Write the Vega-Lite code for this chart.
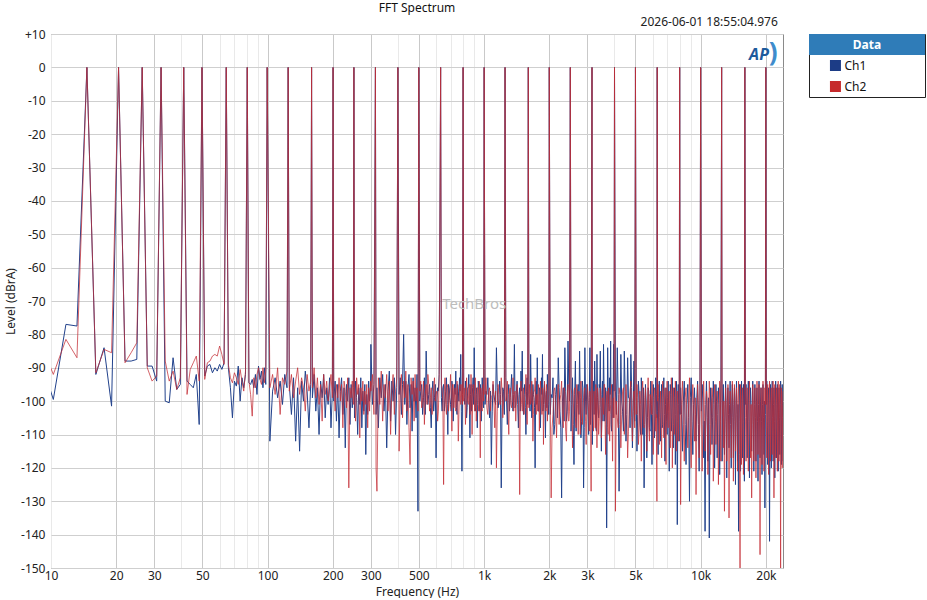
{
  "$schema": "https://vega.github.io/schema/vega-lite/v6.json",
  "padding": {"left": 4, "top": 1, "right": 5, "bottom": 0},
  "background": "white",
  "bounds": "flush",
  "spacing": 26,
  "hconcat": [
    {
      "width": 732,
      "height": 534,
      "view": {"stroke": "#8a8a8a", "strokeWidth": 1},
      "title": {"text": "FFT Spectrum", "fontSize": 12, "fontWeight": "normal", "color": "#111", "anchor": "middle", "offset": 1},
      "layer": [
        {
          "data": {"name": "spectrum"},
          "mark": {"type": "line", "color": "#22428c", "strokeWidth": 1, "clip": true, "strokeJoin": "round"},
          "encoding": {
            "x": {
              "field": "f", "type": "quantitative", "title": "Frequency (Hz)",
              "scale": {"type": "log", "domain": [10, 24000], "nice": false},
              "axis": {
                "values": [10,20,30,40,50,60,70,80,90,100,200,300,400,500,600,700,800,900,1000,2000,3000,4000,5000,6000,7000,8000,9000,10000,20000],
                "labelExpr": "indexof([10,20,30,50,100,200,300,500], datum.value) >= 0 ? '' + datum.value : (indexof([1000,2000,3000,5000,10000,20000], datum.value) >= 0 ? (datum.value / 1000) + 'k' : '')",
                "gridColor": {"condition": {"test": "indexof([20,30,50,100,200,300,500,1000,2000,3000,5000,10000,20000], datum.value) >= 0", "value": "#c9c9c9"}, "value": "#e9e9e9"},
                "labelOverlap": false, "labelFlush": false, "labelPadding": 2, "titlePadding": 5
              }
            },
            "y": {
              "field": "Ch1", "type": "quantitative", "title": "Level (dBrA)",
              "scale": {"domain": [-150, 10], "nice": false, "zero": false},
              "axis": {
                "tickCount": 16,
                "labelExpr": "datum.value > 0 ? '+' + datum.value : '' + datum.value",
                "gridColor": "#cfcfcf", "labelOverlap": false, "labelSeparation": 0, "labelFlush": false, "labelPadding": 6, "titlePadding": 3
              }
            }
          }
        },
        {
          "data": {"name": "spectrum"},
          "mark": {"type": "line", "color": "#c42c34", "strokeWidth": 1, "opacity": 0.74, "clip": true, "strokeJoin": "round"},
          "encoding": {
            "x": {"field": "f", "type": "quantitative"},
            "y": {"field": "Ch2", "type": "quantitative"}
          }
        },
        {
          "data": {"values": [{"label": "2026-06-01 18:55:04.976"}]},
          "mark": {"type": "text", "align": "right", "baseline": "middle", "fontSize": 12, "color": "#222", "clip": false},
          "encoding": {
            "x": {"datum": 22700, "type": "quantitative"},
            "y": {"datum": 13.6, "type": "quantitative"},
            "text": {"field": "label"}
          }
        },
        {
          "data": {"values": [{"label": "AP"}]},
          "mark": {"type": "text", "align": "center", "baseline": "middle", "fontSize": 16, "fontWeight": "bold", "fontStyle": "italic", "color": "#1d5a9c"},
          "encoding": {
            "x": {"datum": 18600, "type": "quantitative"},
            "y": {"datum": 3.8, "type": "quantitative"},
            "text": {"field": "label"}
          }
        },
        {
          "data": {"values": [{"label": ")"}]},
          "mark": {"type": "text", "align": "center", "baseline": "middle", "fontSize": 26, "fontWeight": "bold", "color": "#3f8ccc"},
          "encoding": {
            "x": {"datum": 21600, "type": "quantitative"},
            "y": {"datum": 4.2, "type": "quantitative"},
            "text": {"field": "label"}
          }
        },
        {
          "data": {"values": [{"label": "TechBros"}]},
          "mark": {"type": "text", "align": "center", "baseline": "middle", "fontSize": 15, "color": "#bdbdbd"},
          "encoding": {
            "x": {"datum": 900, "type": "quantitative"},
            "y": {"datum": -70.8, "type": "quantitative"},
            "text": {"field": "label"}
          }
        }
      ]
    },
    {
      "width": 116,
      "height": 63,
      "view": {"stroke": "#222", "strokeWidth": 1},
      "data": {"values": [{"item": "Data"}, {"item": "Ch1"}, {"item": "Ch2"}]},
      "encoding": {
        "y": {"field": "item", "type": "nominal", "axis": null, "scale": {"domain": ["Data", "Ch1", "Ch2"], "paddingInner": 0, "paddingOuter": 0}}
      },
      "layer": [
        {
          "transform": [{"filter": "datum.item == 'Data'"}],
          "mark": {"type": "rect", "color": "#2f7cb8"},
          "encoding": {
            "x": {"datum": 0, "type": "quantitative", "scale": {"domain": [0, 1]}, "axis": null},
            "x2": {"datum": 1}
          }
        },
        {
          "transform": [{"filter": "datum.item == 'Data'"}],
          "mark": {"type": "text", "color": "white", "fontWeight": "bold", "fontSize": 12},
          "encoding": {
            "x": {"datum": 0.5, "type": "quantitative", "scale": {"domain": [0, 1]}, "axis": null},
            "text": {"field": "item"}
          }
        },
        {
          "transform": [{"filter": "datum.item != 'Data'"}],
          "mark": {"type": "square", "size": 121, "opacity": 1, "filled": true},
          "encoding": {
            "x": {"datum": 0.228, "type": "quantitative", "scale": {"domain": [0, 1]}, "axis": null},
            "color": {"field": "item", "type": "nominal", "scale": {"domain": ["Ch1", "Ch2"], "range": ["#1c3c86", "#c62b2c"]}, "legend": null}
          }
        },
        {
          "transform": [{"filter": "datum.item != 'Data'"}],
          "mark": {"type": "text", "align": "left", "fontSize": 12, "color": "#111"},
          "encoding": {
            "x": {"datum": 0.305, "type": "quantitative", "scale": {"domain": [0, 1]}, "axis": null},
            "text": {"field": "item"}
          }
        }
      ]
    }
  ],
  "datasets": {
    "spectrum": [
      {"f":8.79,"Ch1":-86,"Ch2":-81},{"f":10.25,"Ch1":-99.5,"Ch2":-92},{"f":11.72,"Ch1":-77,"Ch2":-81.5},{"f":13.18,"Ch1":-77.5,"Ch2":-87},{"f":14.65,"Ch1":0,"Ch2":0},
      {"f":16.11,"Ch1":-92,"Ch2":-91.5},{"f":17.58,"Ch1":-84,"Ch2":-84.5},{"f":19.04,"Ch1":-101.5,"Ch2":-85.5},{"f":20.51,"Ch1":0,"Ch2":0},{"f":21.97,"Ch1":-88,"Ch2":-88.5},
      {"f":23.44,"Ch1":-88,"Ch2":-85.5},{"f":24.9,"Ch1":-87.5,"Ch2":-82.5},{"f":26.37,"Ch1":0,"Ch2":0},{"f":27.83,"Ch1":-89.5,"Ch2":-90},{"f":29.3,"Ch1":-89.5,"Ch2":-94},
      {"f":30.76,"Ch1":-94,"Ch2":-92.5},{"f":32.23,"Ch1":0,"Ch2":0},{"f":33.69,"Ch1":-100,"Ch2":-88},{"f":35.16,"Ch1":-100.5,"Ch2":-94},{"f":36.62,"Ch1":-87,"Ch2":-91},
      {"f":38.09,"Ch1":-96.5,"Ch2":-96.5},{"f":39.55,"Ch1":-95,"Ch2":-93},{"f":41.02,"Ch1":0,"Ch2":0},{"f":42.48,"Ch1":-94,"Ch2":-98},{"f":43.95,"Ch1":-95,"Ch2":-90.5},
      {"f":45.41,"Ch1":-96,"Ch2":-88.5},{"f":46.88,"Ch1":-92,"Ch2":-86.5},{"f":48.34,"Ch1":-107,"Ch2":-94},{"f":49.8,"Ch1":0,"Ch2":0},{"f":51.27,"Ch1":-92.5,"Ch2":-93.5},
      {"f":52.73,"Ch1":-89.5,"Ch2":-88.5},{"f":54.2,"Ch1":-89,"Ch2":-88},{"f":55.66,"Ch1":-91.5,"Ch2":-86.5},{"f":57.13,"Ch1":-90,"Ch2":-86},{"f":58.59,"Ch1":-91,"Ch2":-86.5},
      {"f":60.06,"Ch1":-89,"Ch2":-83.5},{"f":61.52,"Ch1":-90.5,"Ch2":-86},{"f":62.99,"Ch1":-88.5,"Ch2":-89},{"f":64.45,"Ch1":0,"Ch2":0},{"f":65.92,"Ch1":-90,"Ch2":-89},
      {"f":67.38,"Ch1":-96,"Ch2":-93},{"f":68.85,"Ch1":-105,"Ch2":-94.5},{"f":70.31,"Ch1":-94,"Ch2":-91.5},{"f":71.78,"Ch1":-95.5,"Ch2":-93},{"f":73.24,"Ch1":-89.5,"Ch2":-95},
      {"f":74.71,"Ch1":-100,"Ch2":-90.5},{"f":76.17,"Ch1":-93,"Ch2":-94},{"f":77.64,"Ch1":-96,"Ch2":-97},{"f":79.1,"Ch1":-92,"Ch2":-91},{"f":80.57,"Ch1":0,"Ch2":0},
      {"f":82.03,"Ch1":-94.5,"Ch2":-94},{"f":83.5,"Ch1":-95,"Ch2":-98},{"f":84.96,"Ch1":-93.5,"Ch2":-104.5},{"f":86.43,"Ch1":-96,"Ch2":-93},{"f":87.89,"Ch1":-92,"Ch2":-96},
      {"f":89.36,"Ch1":-98,"Ch2":-92},{"f":90.82,"Ch1":-89.5,"Ch2":-90},{"f":92.29,"Ch1":-93.5,"Ch2":-93.5},{"f":93.75,"Ch1":-91,"Ch2":-95},{"f":95.21,"Ch1":-96,"Ch2":-90},
      {"f":96.68,"Ch1":-90,"Ch2":-94.5},{"f":98.14,"Ch1":-95,"Ch2":-91},{"f":99.61,"Ch1":0,"Ch2":0},
      {"f":102.5,"Ch1":-112,"Ch2":-96},{"f":105.5,"Ch1":-97,"Ch2":-92},{"f":108.4,"Ch1":-93,"Ch2":-98},{"f":111.3,"Ch1":-99,"Ch2":-90},{"f":114.3,"Ch1":-94,"Ch2":-104},
      {"f":117.2,"Ch1":-101,"Ch2":-93},{"f":120.1,"Ch1":-92,"Ch2":-95},{"f":123.0,"Ch1":-96,"Ch2":-91},{"f":124.5,"Ch1":0,"Ch2":0},{"f":126.0,"Ch1":-95,"Ch2":-97},
      {"f":128.9,"Ch1":-104,"Ch2":-92},{"f":131.8,"Ch1":-93,"Ch2":-99},{"f":134.8,"Ch1":-112,"Ch2":-94},{"f":137.7,"Ch1":-96,"Ch2":-90},{"f":140.6,"Ch1":-115,"Ch2":-98},
      {"f":143.6,"Ch1":-94,"Ch2":-93},{"f":146.5,"Ch1":-100,"Ch2":-96},{"f":149.4,"Ch1":-91,"Ch2":-103},{"f":152.3,"Ch1":-97,"Ch2":-92},{"f":155.3,"Ch1":-108,"Ch2":-97},
      {"f":158.2,"Ch1":-95,"Ch2":-94},{"f":159.7,"Ch1":0,"Ch2":0},{"f":161.1,"Ch1":-99,"Ch2":-96},{"f":164.1,"Ch1":-92,"Ch2":-90},{"f":167.0,"Ch1":-103,"Ch2":-99},
      {"f":169.9,"Ch1":-96,"Ch2":-93},{"f":172.9,"Ch1":-110,"Ch2":-101},{"f":175.8,"Ch1":-94,"Ch2":-95},{"f":178.7,"Ch1":-99,"Ch2":-106},{"f":181.6,"Ch1":-92,"Ch2":-92},
      {"f":184.6,"Ch1":-105,"Ch2":-98},{"f":187.5,"Ch1":-96,"Ch2":-94},{"f":190.4,"Ch1":-101,"Ch2":-100},{"f":193.4,"Ch1":-93,"Ch2":-96},{"f":196.3,"Ch1":-108,"Ch2":-92},
      {"f":199.2,"Ch1":-97,"Ch2":-99},{"f":200.7,"Ch1":0,"Ch2":0},{"f":202.1,"Ch1":-100,"Ch2":-96},{"f":205.1,"Ch1":-94,"Ch2":-103},{"f":208.0,"Ch1":-106,"Ch2":-95},
      {"f":210.9,"Ch1":-95,"Ch2":-99},{"f":213.9,"Ch1":-111,"Ch2":-93},{"f":216.8,"Ch1":-97,"Ch2":-100},{"f":219.7,"Ch1":-93,"Ch2":-95},{"f":222.7,"Ch1":-104,"Ch2":-108},
      {"f":225.6,"Ch1":-96,"Ch2":-94},{"f":228.5,"Ch1":-114,"Ch2":-97},{"f":231.4,"Ch1":-95,"Ch2":-102},{"f":234.4,"Ch1":-100,"Ch2":-93},{"f":237.3,"Ch1":-93,"Ch2":-126},
      {"f":240.2,"Ch1":-107,"Ch2":-96},{"f":243.2,"Ch1":-95,"Ch2":-99},{"f":246.1,"Ch1":-102,"Ch2":-94},{"f":249.0,"Ch1":-96,"Ch2":-101},{"f":250.5,"Ch1":0,"Ch2":0},
      {"f":252.0,"Ch1":-105,"Ch2":-97},{"f":254.9,"Ch1":-94,"Ch2":-106},{"f":257.8,"Ch1":-99,"Ch2":-93},{"f":260.7,"Ch1":-110,"Ch2":-98},{"f":263.7,"Ch1":-96,"Ch2":-95},
      {"f":266.6,"Ch1":-101,"Ch2":-111},{"f":269.5,"Ch1":-93,"Ch2":-96},{"f":272.5,"Ch1":-108,"Ch2":-100},{"f":275.4,"Ch1":-97,"Ch2":-94},{"f":278.3,"Ch1":-103,"Ch2":-104},
      {"f":281.3,"Ch1":-95,"Ch2":-97},{"f":284.2,"Ch1":-116,"Ch2":-101},{"f":287.1,"Ch1":-98,"Ch2":-95},{"f":290.0,"Ch1":-104,"Ch2":-108},{"f":293.0,"Ch1":-94,"Ch2":-96},
      {"f":295.9,"Ch1":-100,"Ch2":-103},{"f":298.8,"Ch1":-96,"Ch2":-94},
      {"f":300,"Ch1":-83,"Ch2":-97},{"f":305,"Ch1":-101,"Ch2":-92},{"f":310,"Ch1":-95,"Ch2":-104},{"f":314.9,"Ch1":0,"Ch2":0},{"f":317,"Ch1":-104,"Ch2":-120},
      {"f":320,"Ch1":-96,"Ch2":-127},{"f":325,"Ch1":-108,"Ch2":-93},{"f":330,"Ch1":-93,"Ch2":-101},{"f":335,"Ch1":-99,"Ch2":-91},{"f":340,"Ch1":-92,"Ch2":-106},
      {"f":345,"Ch1":-103,"Ch2":-95},{"f":350,"Ch1":-95,"Ch2":-99},{"f":355,"Ch1":-114,"Ch2":-92},{"f":360,"Ch1":-97,"Ch2":-103},{"f":365,"Ch1":-91,"Ch2":-94},
      {"f":370,"Ch1":-106,"Ch2":-110},{"f":375,"Ch1":-94,"Ch2":-96},{"f":380,"Ch1":-100,"Ch2":-92},{"f":385,"Ch1":-93,"Ch2":-104},{"f":390,"Ch1":-110,"Ch2":-97},
      {"f":395,"Ch1":-96,"Ch2":-93},{"f":399.9,"Ch1":0,"Ch2":0},{"f":405,"Ch1":-98,"Ch2":-115},{"f":410,"Ch1":-93,"Ch2":-97},{"f":415,"Ch1":-104,"Ch2":-92},
      {"f":420,"Ch1":-95,"Ch2":-105},{"f":425,"Ch1":-80,"Ch2":-94},{"f":430,"Ch1":-101,"Ch2":-99},{"f":435,"Ch1":-94,"Ch2":-91},{"f":440,"Ch1":-107,"Ch2":-103},
      {"f":445,"Ch1":-96,"Ch2":-95},{"f":450,"Ch1":-92,"Ch2":-108},{"f":455,"Ch1":-102,"Ch2":-119},{"f":460,"Ch1":-95,"Ch2":-93},{"f":465,"Ch1":-109,"Ch2":-98},
      {"f":470,"Ch1":-93,"Ch2":-94},{"f":475,"Ch1":-100,"Ch2":-106},{"f":480,"Ch1":-96,"Ch2":-92},{"f":485,"Ch1":-105,"Ch2":-100},{"f":490,"Ch1":-92,"Ch2":-96},
      {"f":495,"Ch1":-133,"Ch2":-103},{"f":499.5,"Ch1":0,"Ch2":0},
      {"f":510,"Ch1":-97,"Ch2":-94},{"f":520,"Ch1":-104,"Ch2":-99},{"f":530,"Ch1":-93,"Ch2":-107},{"f":540,"Ch1":-85,"Ch2":-95},{"f":550,"Ch1":-101,"Ch2":-92},
      {"f":560,"Ch1":-95,"Ch2":-103},{"f":570,"Ch1":-108,"Ch2":-96},{"f":580,"Ch1":-94,"Ch2":-100},{"f":590,"Ch1":-99,"Ch2":-93},{"f":600,"Ch1":-117,"Ch2":-98},
      {"f":610,"Ch1":-96,"Ch2":-106},{"f":620,"Ch1":-92,"Ch2":-94},{"f":629.9,"Ch1":0,"Ch2":0},{"f":640,"Ch1":-103,"Ch2":-97},{"f":650,"Ch1":-95,"Ch2":-125},
      {"f":660,"Ch1":-100,"Ch2":-93},{"f":670,"Ch1":-93,"Ch2":-104},{"f":680,"Ch1":-110,"Ch2":-96},{"f":690,"Ch1":-96,"Ch2":-100},{"f":700,"Ch1":-101,"Ch2":-92},
      {"f":710,"Ch1":-94,"Ch2":-109},{"f":720,"Ch1":-106,"Ch2":-95},{"f":730,"Ch1":-95,"Ch2":-98},{"f":740,"Ch1":-91,"Ch2":-103},{"f":750,"Ch1":-104,"Ch2":-94},
      {"f":760,"Ch1":-97,"Ch2":-112},{"f":770,"Ch1":-93,"Ch2":-96},{"f":780,"Ch1":-86,"Ch2":-101},{"f":790,"Ch1":-121,"Ch2":-95},{"f":799.8,"Ch1":0,"Ch2":0},
      {"f":810,"Ch1":-99,"Ch2":-97},{"f":820,"Ch1":-94,"Ch2":-107},{"f":830,"Ch1":-105,"Ch2":-93},{"f":840,"Ch1":-96,"Ch2":-100},{"f":850,"Ch1":-92,"Ch2":-96},
      {"f":860,"Ch1":-111,"Ch2":-104},{"f":870,"Ch1":-95,"Ch2":-92},{"f":880,"Ch1":-100,"Ch2":-110},{"f":890,"Ch1":-93,"Ch2":-95},{"f":900,"Ch1":-84,"Ch2":-99},
      {"f":910,"Ch1":-103,"Ch2":-93},{"f":920,"Ch1":-96,"Ch2":-106},{"f":930,"Ch1":-108,"Ch2":-96},{"f":940,"Ch1":-94,"Ch2":-101},{"f":950,"Ch1":-99,"Ch2":-94},
      {"f":960,"Ch1":-95,"Ch2":-117},{"f":970,"Ch1":-106,"Ch2":-97},{"f":980,"Ch1":-93,"Ch2":-103},{"f":990,"Ch1":-101,"Ch2":-95},{"f":1000.5,"Ch1":0,"Ch2":0},
      {"f":1020,"Ch1":-97,"Ch2":-93},{"f":1040,"Ch1":-93,"Ch2":-104},{"f":1060,"Ch1":-105,"Ch2":-96},{"f":1080,"Ch1":-119,"Ch2":-99},{"f":1100,"Ch1":-95,"Ch2":-94},
      {"f":1120,"Ch1":-100,"Ch2":-108},{"f":1140,"Ch1":-84,"Ch2":-120},{"f":1160,"Ch1":-102,"Ch2":-95},{"f":1180,"Ch1":-94,"Ch2":-101},{"f":1200,"Ch1":-126,"Ch2":-93},
      {"f":1220,"Ch1":-96,"Ch2":-105},{"f":1240,"Ch1":-104,"Ch2":-97},{"f":1249.5,"Ch1":0,"Ch2":0},{"f":1260,"Ch1":-93,"Ch2":-100},{"f":1280,"Ch1":-107,"Ch2":-94},
      {"f":1300,"Ch1":-95,"Ch2":-110},{"f":1320,"Ch1":-99,"Ch2":-96},{"f":1340,"Ch1":-92,"Ch2":-102},{"f":1360,"Ch1":-103,"Ch2":-93},{"f":1380,"Ch1":-83,"Ch2":-98},
      {"f":1400,"Ch1":-101,"Ch2":-106},{"f":1420,"Ch1":-94,"Ch2":-95},{"f":1440,"Ch1":-108,"Ch2":-100},{"f":1460,"Ch1":-96,"Ch2":-128},{"f":1480,"Ch1":-91,"Ch2":-94},
      {"f":1500,"Ch1":-85,"Ch2":-103},{"f":1520,"Ch1":-104,"Ch2":-96},{"f":1540,"Ch1":-95,"Ch2":-99},{"f":1560,"Ch1":-110,"Ch2":-92},{"f":1580,"Ch1":-93,"Ch2":-107},
      {"f":1599.6,"Ch1":0,"Ch2":0},{"f":1620,"Ch1":-100,"Ch2":-95},{"f":1640,"Ch1":-86,"Ch2":-101},{"f":1660,"Ch1":-105,"Ch2":-94},{"f":1680,"Ch1":-95,"Ch2":-112},
      {"f":1700,"Ch1":-99,"Ch2":-97},{"f":1720,"Ch1":-120,"Ch2":-93},{"f":1740,"Ch1":-94,"Ch2":-104},{"f":1760,"Ch1":-87,"Ch2":-98},{"f":1780,"Ch1":-103,"Ch2":-95},
      {"f":1800,"Ch1":-96,"Ch2":-109},{"f":1820,"Ch1":-108,"Ch2":-94},{"f":1840,"Ch1":-93,"Ch2":-100},{"f":1860,"Ch1":-86,"Ch2":-96},{"f":1880,"Ch1":-101,"Ch2":-113},
      {"f":1900,"Ch1":-95,"Ch2":-94},{"f":1920,"Ch1":-111,"Ch2":-101},{"f":1940,"Ch1":-97,"Ch2":-95},{"f":1960,"Ch1":-92,"Ch2":-106},{"f":1980,"Ch1":-104,"Ch2":-99},
      {"f":1999.5,"Ch1":0,"Ch2":0},
      {"f":2040,"Ch1":-98,"Ch2":-129},{"f":2080,"Ch1":-93,"Ch2":-104},{"f":2120,"Ch1":-107,"Ch2":-96},{"f":2160,"Ch1":-95,"Ch2":-111},{"f":2200,"Ch1":-87,"Ch2":-95},
      {"f":2240,"Ch1":-103,"Ch2":-100},{"f":2280,"Ch1":-129,"Ch2":-94},{"f":2320,"Ch1":-96,"Ch2":-108},{"f":2360,"Ch1":-84,"Ch2":-97},{"f":2400,"Ch1":-106,"Ch2":-112},
      {"f":2440,"Ch1":-82,"Ch2":-95},{"f":2480,"Ch1":-100,"Ch2":-103},{"f":2500.5,"Ch1":0,"Ch2":0},{"f":2520,"Ch1":-109,"Ch2":-96},{"f":2560,"Ch1":-93,"Ch2":-114},
      {"f":2600,"Ch1":-119,"Ch2":-97},{"f":2640,"Ch1":-88,"Ch2":-105},{"f":2680,"Ch1":-101,"Ch2":-95},{"f":2720,"Ch1":-95,"Ch2":-110},{"f":2760,"Ch1":-85,"Ch2":-98},
      {"f":2800,"Ch1":-111,"Ch2":-94},{"f":2840,"Ch1":-94,"Ch2":-107},{"f":2880,"Ch1":-126,"Ch2":-99},{"f":2920,"Ch1":-84,"Ch2":-96},{"f":2960,"Ch1":-104,"Ch2":-113},
      {"f":3000,"Ch1":-96,"Ch2":-95},{"f":3040,"Ch1":-110,"Ch2":-104},{"f":3080,"Ch1":-84,"Ch2":-97},{"f":3120,"Ch1":-100,"Ch2":-127},{"f":3149.4,"Ch1":0,"Ch2":0},
      {"f":3160,"Ch1":-113,"Ch2":-96},{"f":3200,"Ch1":-94,"Ch2":-109},{"f":3240,"Ch1":-88,"Ch2":-100},{"f":3280,"Ch1":-108,"Ch2":-95},{"f":3320,"Ch1":-86,"Ch2":-114},
      {"f":3360,"Ch1":-103,"Ch2":-98},{"f":3400,"Ch1":-95,"Ch2":-106},{"f":3440,"Ch1":-85,"Ch2":-96},{"f":3480,"Ch1":-115,"Ch2":-111},{"f":3520,"Ch1":-94,"Ch2":-99},
      {"f":3560,"Ch1":-83,"Ch2":-104},{"f":3600,"Ch1":-106,"Ch2":-95},{"f":3640,"Ch1":-96,"Ch2":-116},{"f":3680,"Ch1":-138,"Ch2":-98},{"f":3720,"Ch1":-84,"Ch2":-107},
      {"f":3760,"Ch1":-101,"Ch2":-96},{"f":3800,"Ch1":-93,"Ch2":-112},{"f":3840,"Ch1":-82,"Ch2":-101},{"f":3880,"Ch1":-109,"Ch2":-95},{"f":3920,"Ch1":-95,"Ch2":-118},
      {"f":3960,"Ch1":-83,"Ch2":-99},{"f":4000.5,"Ch1":0,"Ch2":0},
      {"f":4040,"Ch1":-97,"Ch2":-133},{"f":4120,"Ch1":-84,"Ch2":-105},{"f":4200,"Ch1":-127,"Ch2":-96},{"f":4280,"Ch1":-86,"Ch2":-114},{"f":4360,"Ch1":-103,"Ch2":-97},
      {"f":4440,"Ch1":-85,"Ch2":-110},{"f":4520,"Ch1":-112,"Ch2":-95},{"f":4600,"Ch1":-87,"Ch2":-117},{"f":4680,"Ch1":-99,"Ch2":-101},{"f":4760,"Ch1":-86,"Ch2":-94},
      {"f":4840,"Ch1":-114,"Ch2":-112},{"f":4920,"Ch1":-88,"Ch2":-97},{"f":4999.5,"Ch1":0,"Ch2":0},{"f":5080,"Ch1":-115,"Ch2":-95},{"f":5160,"Ch1":-94,"Ch2":-113},
      {"f":5240,"Ch1":-106,"Ch2":-97},{"f":5320,"Ch1":-93,"Ch2":-118},{"f":5400,"Ch1":-110,"Ch2":-94},{"f":5480,"Ch1":-126,"Ch2":-108},{"f":5560,"Ch1":-95,"Ch2":-96},
      {"f":5640,"Ch1":-117,"Ch2":-115},{"f":5720,"Ch1":-96,"Ch2":-93},{"f":5800,"Ch1":-108,"Ch2":-112},{"f":5880,"Ch1":-94,"Ch2":-99},{"f":5960,"Ch1":-119,"Ch2":-94},
      {"f":6040,"Ch1":-95,"Ch2":-116},{"f":6120,"Ch1":-111,"Ch2":-96},{"f":6200,"Ch1":-93,"Ch2":-109},{"f":6280,"Ch1":-105,"Ch2":-130},{"f":6300.3,"Ch1":0,"Ch2":0},
      {"f":6360,"Ch1":-116,"Ch2":-95},{"f":6440,"Ch1":-94,"Ch2":-113},{"f":6520,"Ch1":-112,"Ch2":-97},{"f":6600,"Ch1":-95,"Ch2":-117},{"f":6680,"Ch1":-107,"Ch2":-94},
      {"f":6760,"Ch1":-93,"Ch2":-111},{"f":6840,"Ch1":-118,"Ch2":-96},{"f":6920,"Ch1":-96,"Ch2":-119},{"f":7000,"Ch1":-110,"Ch2":-94},{"f":7080,"Ch1":-94,"Ch2":-108},
      {"f":7160,"Ch1":-121,"Ch2":-97},{"f":7240,"Ch1":-95,"Ch2":-114},{"f":7320,"Ch1":-109,"Ch2":-93},{"f":7400,"Ch1":-93,"Ch2":-120},{"f":7480,"Ch1":-114,"Ch2":-96},
      {"f":7560,"Ch1":-96,"Ch2":-110},{"f":7640,"Ch1":-119,"Ch2":-94},{"f":7720,"Ch1":-94,"Ch2":-115},{"f":7800,"Ch1":-137,"Ch2":-97},{"f":7880,"Ch1":-95,"Ch2":-112},
      {"f":7960,"Ch1":-112,"Ch2":-95},{"f":7999.5,"Ch1":0,"Ch2":0},
      {"f":8080,"Ch1":-96,"Ch2":-131},{"f":8240,"Ch1":-115,"Ch2":-94},{"f":8400,"Ch1":-94,"Ch2":-118},{"f":8560,"Ch1":-119,"Ch2":-96},{"f":8720,"Ch1":-95,"Ch2":-114},
      {"f":8880,"Ch1":-130,"Ch2":-93},{"f":9040,"Ch1":-93,"Ch2":-120},{"f":9200,"Ch1":-116,"Ch2":-95},{"f":9360,"Ch1":-96,"Ch2":-112},{"f":9520,"Ch1":-112,"Ch2":-128},
      {"f":9680,"Ch1":-94,"Ch2":-95},{"f":9840,"Ch1":-121,"Ch2":-117},{"f":10000.5,"Ch1":0,"Ch2":0},{"f":10160,"Ch1":-95,"Ch2":-121},{"f":10320,"Ch1":-117,"Ch2":-94},
      {"f":10480,"Ch1":-139,"Ch2":-115},{"f":10640,"Ch1":-94,"Ch2":-97},{"f":10800,"Ch1":-118,"Ch2":-122},{"f":10960,"Ch1":-141,"Ch2":-94},{"f":11120,"Ch1":-96,"Ch2":-116},
      {"f":11280,"Ch1":-113,"Ch2":-96},{"f":11440,"Ch1":-94,"Ch2":-124},{"f":11600,"Ch1":-120,"Ch2":-95},{"f":11760,"Ch1":-95,"Ch2":-113},{"f":11920,"Ch1":-117,"Ch2":-97},
      {"f":12080,"Ch1":-96,"Ch2":-125},{"f":12240,"Ch1":-122,"Ch2":-94},{"f":12400,"Ch1":-94,"Ch2":-118},{"f":12499.5,"Ch1":0,"Ch2":0},{"f":12560,"Ch1":-118,"Ch2":-96},
      {"f":12720,"Ch1":-95,"Ch2":-114},{"f":12880,"Ch1":-116,"Ch2":-133},{"f":13040,"Ch1":-94,"Ch2":-96},{"f":13200,"Ch1":-123,"Ch2":-118},{"f":13360,"Ch1":-96,"Ch2":-95},
      {"f":13520,"Ch1":-114,"Ch2":-135},{"f":13680,"Ch1":-94,"Ch2":-97},{"f":13840,"Ch1":-120,"Ch2":-117},{"f":14000,"Ch1":-95,"Ch2":-94},{"f":14160,"Ch1":-117,"Ch2":-124},
      {"f":14320,"Ch1":-96,"Ch2":-95},{"f":14480,"Ch1":-125,"Ch2":-115},{"f":14640,"Ch1":-94,"Ch2":-96},{"f":14800,"Ch1":-118,"Ch2":-121},{"f":14960,"Ch1":-139,"Ch2":-94},
      {"f":15120,"Ch1":-95,"Ch2":-116},{"f":15200,"Ch1":-97,"Ch2":-150},{"f":15280,"Ch1":-121,"Ch2":-95},{"f":15440,"Ch1":-94,"Ch2":-119},{"f":15600,"Ch1":-117,"Ch2":-96},
      {"f":15760,"Ch1":-95,"Ch2":-122},{"f":15920,"Ch1":-124,"Ch2":-94},{"f":16000.5,"Ch1":0,"Ch2":0},
      {"f":16200,"Ch1":-95,"Ch2":-118},{"f":16400,"Ch1":-117,"Ch2":-96},{"f":16600,"Ch1":-94,"Ch2":-121},{"f":16800,"Ch1":-123,"Ch2":-94},{"f":17000,"Ch1":-96,"Ch2":-117},
      {"f":17200,"Ch1":-115,"Ch2":-129},{"f":17400,"Ch1":-94,"Ch2":-95},{"f":17600,"Ch1":-121,"Ch2":-118},{"f":17800,"Ch1":-95,"Ch2":-96},{"f":18000,"Ch1":-118,"Ch2":-123},
      {"f":18200,"Ch1":-96,"Ch2":-94},{"f":18400,"Ch1":-124,"Ch2":-116},{"f":18600,"Ch1":-94,"Ch2":-95},{"f":18800,"Ch1":-117,"Ch2":-146},{"f":19000,"Ch1":-96,"Ch2":-96},
      {"f":19200,"Ch1":-122,"Ch2":-119},{"f":19400,"Ch1":-95,"Ch2":-94},{"f":19600,"Ch1":-116,"Ch2":-121},{"f":19800,"Ch1":-132,"Ch2":-96},{"f":19999.5,"Ch1":0,"Ch2":0},
      {"f":20200,"Ch1":-94,"Ch2":-117},{"f":20400,"Ch1":-119,"Ch2":-95},{"f":20600,"Ch1":-96,"Ch2":-122},{"f":20800,"Ch1":-142,"Ch2":-94},{"f":21000,"Ch1":-95,"Ch2":-118},
      {"f":21200,"Ch1":-120,"Ch2":-96},{"f":21400,"Ch1":-94,"Ch2":-116},{"f":21600,"Ch1":-118,"Ch2":-94},{"f":21800,"Ch1":-96,"Ch2":-129},{"f":22000,"Ch1":-123,"Ch2":-95},
      {"f":22200,"Ch1":-94,"Ch2":-117},{"f":22400,"Ch1":-117,"Ch2":-96},{"f":22600,"Ch1":-95,"Ch2":-121},{"f":22800,"Ch1":-121,"Ch2":-94},{"f":23000,"Ch1":-96,"Ch2":-118},
      {"f":23200,"Ch1":-116,"Ch2":-95},{"f":23400,"Ch1":-94,"Ch2":-150},{"f":23600,"Ch1":-119,"Ch2":-96},{"f":23800,"Ch1":-95,"Ch2":-120},{"f":24000,"Ch1":-118,"Ch2":-97},
      {"f":505,"Ch1":-100,"Ch2":-97},{"f":515,"Ch1":-95,"Ch2":-102},{"f":525,"Ch1":-99,"Ch2":-94},{"f":535,"Ch1":-104,"Ch2":-98},{"f":545,"Ch1":-96,"Ch2":-101},
      {"f":555,"Ch1":-98,"Ch2":-95},{"f":565,"Ch1":-102,"Ch2":-99},{"f":575,"Ch1":-97,"Ch2":-104},{"f":585,"Ch1":-103,"Ch2":-96},{"f":595,"Ch1":-95,"Ch2":-100},
      {"f":605,"Ch1":-100,"Ch2":-97},{"f":615,"Ch1":-97,"Ch2":-103},{"f":635,"Ch1":-99,"Ch2":-95},{"f":645,"Ch1":-96,"Ch2":-100},{"f":655,"Ch1":-103,"Ch2":-97},
      {"f":665,"Ch1":-97,"Ch2":-101},{"f":675,"Ch1":-101,"Ch2":-95},{"f":685,"Ch1":-95,"Ch2":-103},{"f":695,"Ch1":-99,"Ch2":-97},{"f":705,"Ch1":-103,"Ch2":-99},
      {"f":715,"Ch1":-96,"Ch2":-95},{"f":725,"Ch1":-100,"Ch2":-102},{"f":735,"Ch1":-98,"Ch2":-96},{"f":745,"Ch1":-102,"Ch2":-100},{"f":755,"Ch1":-95,"Ch2":-98},
      {"f":765,"Ch1":-100,"Ch2":-104},{"f":775,"Ch1":-97,"Ch2":-95},{"f":785,"Ch1":-103,"Ch2":-99},{"f":795,"Ch1":-98,"Ch2":-101},{"f":805,"Ch1":-96,"Ch2":-100},
      {"f":815,"Ch1":-101,"Ch2":-96},{"f":825,"Ch1":-97,"Ch2":-103},{"f":835,"Ch1":-102,"Ch2":-98},{"f":845,"Ch1":-96,"Ch2":-101},{"f":855,"Ch1":-100,"Ch2":-95},
      {"f":865,"Ch1":-98,"Ch2":-102},{"f":875,"Ch1":-103,"Ch2":-97},{"f":885,"Ch1":-96,"Ch2":-100},{"f":895,"Ch1":-101,"Ch2":-98},{"f":905,"Ch1":-97,"Ch2":-103},
      {"f":915,"Ch1":-102,"Ch2":-97},{"f":925,"Ch1":-98,"Ch2":-100},{"f":935,"Ch1":-101,"Ch2":-96},{"f":945,"Ch1":-96,"Ch2":-103},{"f":955,"Ch1":-103,"Ch2":-99},
      {"f":965,"Ch1":-98,"Ch2":-96},{"f":975,"Ch1":-100,"Ch2":-102},{"f":985,"Ch1":-97,"Ch2":-98},{"f":995,"Ch1":-102,"Ch2":-100},
      {"f":1010,"Ch1":-101,"Ch2":-98},{"f":1030,"Ch1":-98,"Ch2":-102},{"f":1050,"Ch1":-100,"Ch2":-97},{"f":1070,"Ch1":-97,"Ch2":-103},{"f":1090,"Ch1":-103,"Ch2":-98},
      {"f":1110,"Ch1":-98,"Ch2":-100},{"f":1130,"Ch1":-101,"Ch2":-97},{"f":1150,"Ch1":-96,"Ch2":-103},{"f":1170,"Ch1":-100,"Ch2":-98},{"f":1190,"Ch1":-98,"Ch2":-101},
      {"f":1210,"Ch1":-102,"Ch2":-97},{"f":1230,"Ch1":-97,"Ch2":-100},{"f":1270,"Ch1":-100,"Ch2":-98},{"f":1290,"Ch1":-98,"Ch2":-103},{"f":1310,"Ch1":-103,"Ch2":-97},
      {"f":1330,"Ch1":-96,"Ch2":-101},{"f":1350,"Ch1":-100,"Ch2":-98},{"f":1370,"Ch1":-98,"Ch2":-103},{"f":1390,"Ch1":-102,"Ch2":-97},{"f":1410,"Ch1":-97,"Ch2":-100},
      {"f":1430,"Ch1":-101,"Ch2":-98},{"f":1450,"Ch1":-98,"Ch2":-103},{"f":1470,"Ch1":-103,"Ch2":-99},{"f":1490,"Ch1":-97,"Ch2":-101},{"f":1510,"Ch1":-100,"Ch2":-97},
      {"f":1530,"Ch1":-98,"Ch2":-104},{"f":1550,"Ch1":-102,"Ch2":-98},{"f":1570,"Ch1":-97,"Ch2":-101},{"f":1590,"Ch1":-101,"Ch2":-98},{"f":1610,"Ch1":-98,"Ch2":-102},
      {"f":1630,"Ch1":-103,"Ch2":-97},{"f":1650,"Ch1":-97,"Ch2":-100},{"f":1670,"Ch1":-101,"Ch2":-98},{"f":1690,"Ch1":-98,"Ch2":-104},{"f":1710,"Ch1":-102,"Ch2":-97},
      {"f":1730,"Ch1":-97,"Ch2":-101},{"f":1750,"Ch1":-101,"Ch2":-98},{"f":1770,"Ch1":-98,"Ch2":-103},{"f":1790,"Ch1":-103,"Ch2":-97},{"f":1810,"Ch1":-97,"Ch2":-101},
      {"f":1830,"Ch1":-100,"Ch2":-98},{"f":1850,"Ch1":-98,"Ch2":-104},{"f":1870,"Ch1":-103,"Ch2":-97},{"f":1890,"Ch1":-97,"Ch2":-101},{"f":1910,"Ch1":-101,"Ch2":-98},
      {"f":1930,"Ch1":-98,"Ch2":-103},{"f":1950,"Ch1":-102,"Ch2":-97},{"f":1970,"Ch1":-97,"Ch2":-101},{"f":1990,"Ch1":-101,"Ch2":-98},
      {"f":2020,"Ch1":-104,"Ch2":-99},{"f":2060,"Ch1":-99,"Ch2":-108},{"f":2100,"Ch1":-110,"Ch2":-97},{"f":2140,"Ch1":-98,"Ch2":-103},{"f":2180,"Ch1":-105,"Ch2":-100},
      {"f":2220,"Ch1":-96,"Ch2":-107},{"f":2260,"Ch1":-108,"Ch2":-98},{"f":2300,"Ch1":-100,"Ch2":-104},{"f":2340,"Ch1":-106,"Ch2":-96},{"f":2380,"Ch1":-97,"Ch2":-109},
      {"f":2420,"Ch1":-103,"Ch2":-99},{"f":2460,"Ch1":-95,"Ch2":-106},{"f":2540,"Ch1":-101,"Ch2":-98},{"f":2580,"Ch1":-107,"Ch2":-104},{"f":2620,"Ch1":-98,"Ch2":-96},
      {"f":2660,"Ch1":-109,"Ch2":-108},{"f":2700,"Ch1":-97,"Ch2":-101},{"f":2740,"Ch1":-104,"Ch2":-97},{"f":2780,"Ch1":-99,"Ch2":-110},{"f":2820,"Ch1":-106,"Ch2":-100},
      {"f":2860,"Ch1":-96,"Ch2":-103},{"f":2900,"Ch1":-108,"Ch2":-97},{"f":2940,"Ch1":-100,"Ch2":-106},{"f":2980,"Ch1":-95,"Ch2":-101},{"f":3020,"Ch1":-103,"Ch2":-98},
      {"f":3060,"Ch1":-99,"Ch2":-109},{"f":3100,"Ch1":-107,"Ch2":-99},{"f":3180,"Ch1":-98,"Ch2":-104},{"f":3220,"Ch1":-104,"Ch2":-97},{"f":3260,"Ch1":-97,"Ch2":-108},
      {"f":3300,"Ch1":-109,"Ch2":-100},{"f":3340,"Ch1":-99,"Ch2":-96},{"f":3380,"Ch1":-105,"Ch2":-110},{"f":3420,"Ch1":-96,"Ch2":-101},{"f":3460,"Ch1":-102,"Ch2":-97},
      {"f":3500,"Ch1":-98,"Ch2":-106},{"f":3540,"Ch1":-106,"Ch2":-100},{"f":3580,"Ch1":-97,"Ch2":-95},{"f":3620,"Ch1":-104,"Ch2":-107},{"f":3660,"Ch1":-99,"Ch2":-102},
      {"f":3700,"Ch1":-108,"Ch2":-97},{"f":3740,"Ch1":-96,"Ch2":-110},{"f":3780,"Ch1":-103,"Ch2":-99},{"f":3820,"Ch1":-98,"Ch2":-104},{"f":3860,"Ch1":-107,"Ch2":-97},
      {"f":3900,"Ch1":-100,"Ch2":-108},{"f":3940,"Ch1":-105,"Ch2":-100},{"f":3980,"Ch1":-97,"Ch2":-105},
      {"f":4080,"Ch1":-104,"Ch2":-100},{"f":4160,"Ch1":-98,"Ch2":-108},{"f":4240,"Ch1":-107,"Ch2":-98},{"f":4320,"Ch1":-100,"Ch2":-104},{"f":4400,"Ch1":-109,"Ch2":-96},
      {"f":4480,"Ch1":-97,"Ch2":-106},{"f":4560,"Ch1":-104,"Ch2":-101},{"f":4640,"Ch1":-99,"Ch2":-109},{"f":4720,"Ch1":-108,"Ch2":-97},{"f":4800,"Ch1":-96,"Ch2":-105},
      {"f":4880,"Ch1":-103,"Ch2":-100},{"f":4960,"Ch1":-106,"Ch2":-108},{"f":5040,"Ch1":-99,"Ch2":-104},{"f":5120,"Ch1":-104,"Ch2":-99},{"f":5200,"Ch1":-98,"Ch2":-108},
      {"f":5280,"Ch1":-110,"Ch2":-101},{"f":5360,"Ch1":-100,"Ch2":-97},{"f":5440,"Ch1":-96,"Ch2":-105},{"f":5520,"Ch1":-107,"Ch2":-99},{"f":5600,"Ch1":-100,"Ch2":-106},
      {"f":5680,"Ch1":-105,"Ch2":-101},{"f":5760,"Ch1":-97,"Ch2":-108},{"f":5840,"Ch1":-109,"Ch2":-98},{"f":5920,"Ch1":-101,"Ch2":-104},{"f":6000,"Ch1":-104,"Ch2":-100},
      {"f":6080,"Ch1":-99,"Ch2":-109},{"f":6160,"Ch1":-106,"Ch2":-97},{"f":6240,"Ch1":-98,"Ch2":-104},{"f":6320,"Ch1":-103,"Ch2":-100},{"f":6400,"Ch1":-99,"Ch2":-107},
      {"f":6480,"Ch1":-105,"Ch2":-101},{"f":6560,"Ch1":-100,"Ch2":-104},{"f":6640,"Ch1":-108,"Ch2":-99},{"f":6720,"Ch1":-97,"Ch2":-106},{"f":6800,"Ch1":-104,"Ch2":-101},
      {"f":6880,"Ch1":-101,"Ch2":-108},{"f":6960,"Ch1":-106,"Ch2":-99},{"f":7040,"Ch1":-99,"Ch2":-104},{"f":7120,"Ch1":-103,"Ch2":-100},{"f":7200,"Ch1":-108,"Ch2":-107},
      {"f":7280,"Ch1":-98,"Ch2":-101},{"f":7360,"Ch1":-105,"Ch2":-98},{"f":7440,"Ch1":-100,"Ch2":-106},{"f":7520,"Ch1":-107,"Ch2":-102},{"f":7600,"Ch1":-99,"Ch2":-105},
      {"f":7680,"Ch1":-104,"Ch2":-99},{"f":7760,"Ch1":-97,"Ch2":-108},{"f":7840,"Ch1":-106,"Ch2":-101},{"f":7920,"Ch1":-101,"Ch2":-104},{"f":8040,"Ch1":-104,"Ch2":-100},
      {"f":8160,"Ch1":-104,"Ch2":-101},{"f":8320,"Ch1":-100,"Ch2":-107},{"f":8480,"Ch1":-107,"Ch2":-99},{"f":8640,"Ch1":-101,"Ch2":-105},{"f":8800,"Ch1":-105,"Ch2":-100},
      {"f":8960,"Ch1":-99,"Ch2":-108},{"f":9120,"Ch1":-106,"Ch2":-101},{"f":9280,"Ch1":-101,"Ch2":-104},{"f":9440,"Ch1":-104,"Ch2":-99},{"f":9600,"Ch1":-99,"Ch2":-107},
      {"f":9760,"Ch1":-107,"Ch2":-101},{"f":9920,"Ch1":-100,"Ch2":-104},{"f":10080,"Ch1":-103,"Ch2":-100},{"f":10240,"Ch1":-100,"Ch2":-107},{"f":10400,"Ch1":-106,"Ch2":-101},
      {"f":10560,"Ch1":-101,"Ch2":-105},{"f":10720,"Ch1":-105,"Ch2":-100},{"f":10880,"Ch1":-99,"Ch2":-107},{"f":11040,"Ch1":-107,"Ch2":-101},{"f":11200,"Ch1":-100,"Ch2":-104},
      {"f":11360,"Ch1":-105,"Ch2":-99},{"f":11520,"Ch1":-101,"Ch2":-107},{"f":11680,"Ch1":-106,"Ch2":-100},{"f":11840,"Ch1":-100,"Ch2":-105},{"f":12000,"Ch1":-104,"Ch2":-101},
      {"f":12160,"Ch1":-101,"Ch2":-107},{"f":12320,"Ch1":-106,"Ch2":-100},{"f":12640,"Ch1":-100,"Ch2":-105},{"f":12800,"Ch1":-105,"Ch2":-100},{"f":12960,"Ch1":-101,"Ch2":-107},
      {"f":13120,"Ch1":-106,"Ch2":-101},{"f":13280,"Ch1":-100,"Ch2":-105},{"f":13440,"Ch1":-104,"Ch2":-100},{"f":13600,"Ch1":-101,"Ch2":-106},{"f":13760,"Ch1":-107,"Ch2":-101},
      {"f":13920,"Ch1":-100,"Ch2":-104},{"f":14080,"Ch1":-105,"Ch2":-100},{"f":14240,"Ch1":-101,"Ch2":-107},{"f":14400,"Ch1":-106,"Ch2":-101},{"f":14560,"Ch1":-100,"Ch2":-105},
      {"f":14720,"Ch1":-104,"Ch2":-100},{"f":14880,"Ch1":-101,"Ch2":-106},{"f":15040,"Ch1":-106,"Ch2":-101},{"f":15360,"Ch1":-100,"Ch2":-105},{"f":15520,"Ch1":-105,"Ch2":-100},
      {"f":15680,"Ch1":-101,"Ch2":-107},{"f":15840,"Ch1":-106,"Ch2":-101},{"f":16100,"Ch1":-101,"Ch2":-105},
      {"f":16300,"Ch1":-105,"Ch2":-101},{"f":16500,"Ch1":-100,"Ch2":-106},{"f":16700,"Ch1":-106,"Ch2":-100},{"f":16900,"Ch1":-101,"Ch2":-105},{"f":17100,"Ch1":-105,"Ch2":-101},
      {"f":17300,"Ch1":-100,"Ch2":-107},{"f":17500,"Ch1":-106,"Ch2":-100},{"f":17700,"Ch1":-101,"Ch2":-105},{"f":17900,"Ch1":-105,"Ch2":-101},{"f":18100,"Ch1":-100,"Ch2":-106},
      {"f":18300,"Ch1":-106,"Ch2":-100},{"f":18500,"Ch1":-101,"Ch2":-105},{"f":18700,"Ch1":-105,"Ch2":-101},{"f":18900,"Ch1":-100,"Ch2":-106},{"f":19100,"Ch1":-106,"Ch2":-100},
      {"f":19300,"Ch1":-101,"Ch2":-105},{"f":19500,"Ch1":-105,"Ch2":-101},{"f":19700,"Ch1":-100,"Ch2":-106},{"f":19900,"Ch1":-104,"Ch2":-101},{"f":20100,"Ch1":-101,"Ch2":-105},
      {"f":20300,"Ch1":-106,"Ch2":-100},{"f":20500,"Ch1":-100,"Ch2":-106},{"f":20700,"Ch1":-105,"Ch2":-101},{"f":20900,"Ch1":-101,"Ch2":-105},{"f":21100,"Ch1":-106,"Ch2":-100},
      {"f":21300,"Ch1":-100,"Ch2":-106},{"f":21500,"Ch1":-105,"Ch2":-101},{"f":21700,"Ch1":-101,"Ch2":-105},{"f":21900,"Ch1":-106,"Ch2":-100},{"f":22100,"Ch1":-100,"Ch2":-106},
      {"f":22300,"Ch1":-105,"Ch2":-101},{"f":22500,"Ch1":-101,"Ch2":-105},{"f":22700,"Ch1":-106,"Ch2":-100},{"f":22900,"Ch1":-100,"Ch2":-106},{"f":23100,"Ch1":-105,"Ch2":-101},
      {"f":23300,"Ch1":-101,"Ch2":-105},{"f":23500,"Ch1":-106,"Ch2":-100},{"f":23700,"Ch1":-100,"Ch2":-106},{"f":23900,"Ch1":-105,"Ch2":-101}
    ]
  },
  "config": {
    "font": "Noto Sans",
    "axis": {"ticks": false, "domain": false, "labelFontSize": 12, "titleFontSize": 12, "titleFontWeight": "normal", "labelColor": "#222", "titleColor": "#222"},
    "axisY": {"labelOverlap": false},
    "title": {"font": "Noto Sans"}
  }
}
